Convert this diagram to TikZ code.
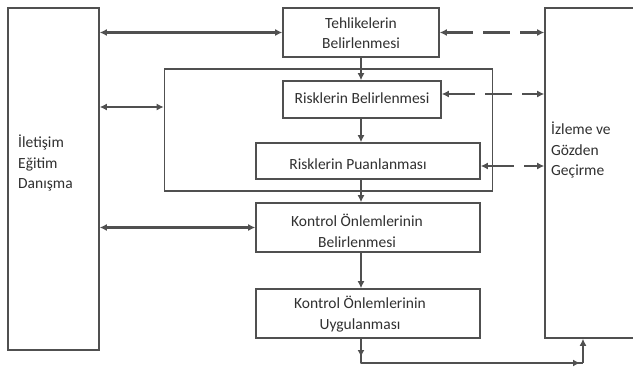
\documentclass[tikz,border=0pt]{standalone}
\usepackage{fontspec}
\setmainfont{Carlito}
\usetikzlibrary{arrows.meta}
\definecolor{lnc}{HTML}{505050}
\definecolor{txc}{HTML}{303030}
\begin{document}
\begin{tikzpicture}[x=1pt,y=-1pt,
  box/.style={draw=lnc, line width=1.6pt, inner sep=0pt},
  txt/.style={text=txc, font=\fontsize{15.5}{20.5}\selectfont, inner sep=0pt, align=center},
  arr/.style={draw=lnc, line width=2.4pt, -{Latex[length=7pt,width=7pt]}},
  dbl/.style={draw=lnc, line width=2.4pt, {Latex[length=7pt,width=7pt]}-{Latex[length=7pt,width=7pt]}},
  dsh/.style={dbl, dash pattern=on 27pt off 10pt},
  plain/.style={draw=lnc, line width=2.4pt}]
\useasboundingbox (0,0) rectangle (633,372);
\fill[white] (0,0) rectangle (633,372);

% left box
\node[box, minimum width=91pt, minimum height=342pt] (L) at (53.5,179) {};
\node[txt, align=left, anchor=west] (Lt) at (18,163) {İletişim\\Eğitim\\Danışma};

% right box (cut at the picture's edge)
\begin{scope}
\clip (0,0) rectangle (633,372);
\node[box, minimum width=100pt, minimum height=330pt] (R) at (595,173) {};
\end{scope}
\node[txt, align=left, anchor=west] (Rt) at (551,150) {İzleme ve\\Gözden\\Geçirme};

% middle column
\node[box, minimum width=156pt, minimum height=49pt] (T) at (361,32.5) {};
\node[txt] (Tt) at (361,33) {Tehlikelerin\\Belirlenmesi};

\node[box, minimum width=328pt, minimum height=122pt] (Big) at (328.5,130) {};

\node[box, minimum width=158pt, minimum height=37pt] (RB) at (362,99.5) {};
\node[txt] (RBt) at (362,98) {Risklerin Belirlenmesi};

\node[box, minimum width=224pt, minimum height=36pt] (RP) at (368,161) {};
\node[txt] (RPt) at (358,164) {Risklerin Puanlanması};

\node[box, minimum width=224pt, minimum height=49pt] (KB) at (368,227.5) {};
\node[txt] (KBt) at (357,231) {Kontrol Önlemlerinin\\Belirlenmesi};

\node[box, minimum width=224pt, minimum height=49pt] (KU) at (368,313.5) {};
\node[txt] (KUt) at (360,314) {Kontrol Önlemlerinin\\Uygulanması};

% vertical arrows
\coordinate (ax) at (361,0);
\draw[arr] (ax |- T.south) -- (ax |- RB.north);
\draw[arr] (ax |- RB.south) -- (ax |- RP.north);
\draw[arr] (ax |- RP.south) -- (ax |- KB.north);
\draw[arr] (ax |- KB.south) -- (ax |- KU.north);

% left double arrows
\coordinate (bigw) at ([yshift=23pt]Big.west);
\draw[dbl] (L.east |- T.west) -- (T.west);
\draw[dbl] (L.east |- bigw) -- (bigw);
\draw[dbl] (L.east |- KB.west) -- (KB.west);

% dashed double arrows to the right box
\coordinate (rbe) at ([yshift=5.5pt]RB.east);
\coordinate (rpe) at ([yshift=-5pt]RP.east);
\draw[dsh] (T.east) -- (R.west |- T.east);
\draw[dsh] (rbe) -- (R.west |- rbe);
\draw[dsh] (rpe) -- (R.west |- rpe);

% bottom feedback connector
\coordinate (b0) at (361,357);
\coordinate (b1) at (361,363);
\coordinate (b2) at (583,363);
\coordinate (b2a) at (580,363);
\draw[plain, line join=round] (ax |- KU.south) -- (b1) -- (b2);
\draw[arr] (ax |- KU.south) -- (b0);
\draw[arr] (b1) -- (b2a);
\draw[arr] (b2) -- (b2 |- R.south);
\end{tikzpicture}
\end{document}
